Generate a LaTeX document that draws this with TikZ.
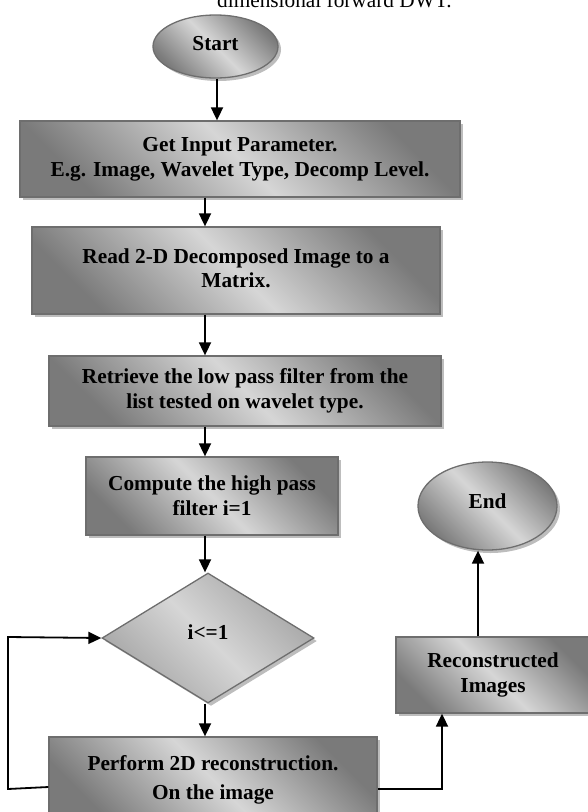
\documentclass[tikz,border=0pt]{standalone}
\usepackage{fontspec}
\setmainfont{Liberation Serif}
\usetikzlibrary{shapes.geometric,shadows,arrows.meta}
\definecolor{shdark}{HTML}{7A7A7A}
\definecolor{shlight}{HTML}{D6D6D6}
\definecolor{shmid}{HTML}{A4A4A4}
\definecolor{edgegray}{HTML}{6E6E6E}
\definecolor{shadowgray}{HTML}{BDBDBD}
\begin{document}
\begin{tikzpicture}[x=1pt,y=-1pt,
  txt/.style={font=\fontsize{21.3}{25}\selectfont\bfseries, align=center, text=black},
  shapebase/.style={txt, draw=edgegray, line width=1.3pt, inner sep=0pt,
    top color=shdark, bottom color=shdark, middle color=shlight, shading angle=-45,
    drop shadow={shadow xshift=3pt, shadow yshift=-3pt, fill=shadowgray, opacity=1}},
  procbox/.style={shapebase, rectangle},
  termnode/.style={shapebase, ellipse},
  decnode/.style={shapebase, diamond, top color=shmid, bottom color=shmid, middle color=shlight, shading angle=-45},
  arr/.style={line width=1.8pt, draw=black, -{Triangle[length=13pt,width=12pt]}},
  captxt/.style={font=\fontsize{21.3}{25}\selectfont, text=black, inner sep=0pt}
]
\useasboundingbox (0,0) rectangle (587,812);

\node[captxt, anchor=base west] (cap) at (217,7) {dimensional forward DWT.};

\node[termnode, minimum width=125pt, minimum height=63pt] (start) at (215.5,46.5) {\raisebox{6pt}{Start}};
\node[procbox, minimum width=440pt, minimum height=76pt] (b1) at (240,159) {Get Input Parameter.\\E.g. Image, Wavelet Type, Decomp Level.};
\node[procbox, minimum width=408pt, minimum height=87pt] (b2) at (236,270.5) {\raisebox{5pt}{\begin{tabular}{@{}c@{}}Read 2-D Decomposed Image to a\\[-1pt]Matrix.\end{tabular}}};
\node[procbox, minimum width=392pt, minimum height=70pt] (b3) at (245,391) {Retrieve the low pass filter from the\\list tested on wavelet type.};
\node[procbox, minimum width=252pt, minimum height=78pt] (b4) at (212,496) {Compute the high pass\\filter i=1};
\node[decnode, minimum width=212pt, minimum height=130pt] (dia) at (208,638) {\raisebox{11pt}{i<=1}};
\node[procbox, minimum width=328pt, minimum height=85pt] (perform) at (213,779.5) {\raisebox{7pt}{\begin{tabular}{@{}c@{}}Perform 2D reconstruction.\\[4pt]On the image\end{tabular}}};
\node[procbox, minimum width=194pt, minimum height=76pt] (recon) at (493,675) {Reconstructed\\Images};
\node[termnode, minimum width=139pt, minimum height=88pt] (end) at (487.5,506) {\raisebox{9pt}{End}};

\coordinate (sx) at (217,0);
\coordinate (ax) at (205,0);
\coordinate (lpy) at (0,787);
\coordinate (lpb) at (8,789);
\coordinate (lpc) at (8,637);
\coordinate (rpy) at (0,789);
\coordinate (rpx) at (442,0);
\coordinate (ex) at (478,0);

\draw[arr] (start.south -| sx) -- (b1.north -| sx);
\draw[arr] (b1.south -| ax) -- (b2.north -| ax);
\draw[arr] (b2.south -| ax) -- (b3.north -| ax);
\draw[arr] (b3.south -| ax) -- (b4.north -| ax);
\draw[arr] (b4.south -| ax) -- (dia.north -| ax);
\draw[arr] (dia.south -| ax) -- (perform.north -| ax);
\draw[arr] (perform.west |- lpy) -- (lpb) -- (lpc) -- (dia.west);
\draw[arr] (perform.east |- rpy) -- (rpx |- rpy) -- (recon.south -| rpx);
\draw[arr] (recon.north -| ex) -- (end.south -| ex);
\end{tikzpicture}
\end{document}
